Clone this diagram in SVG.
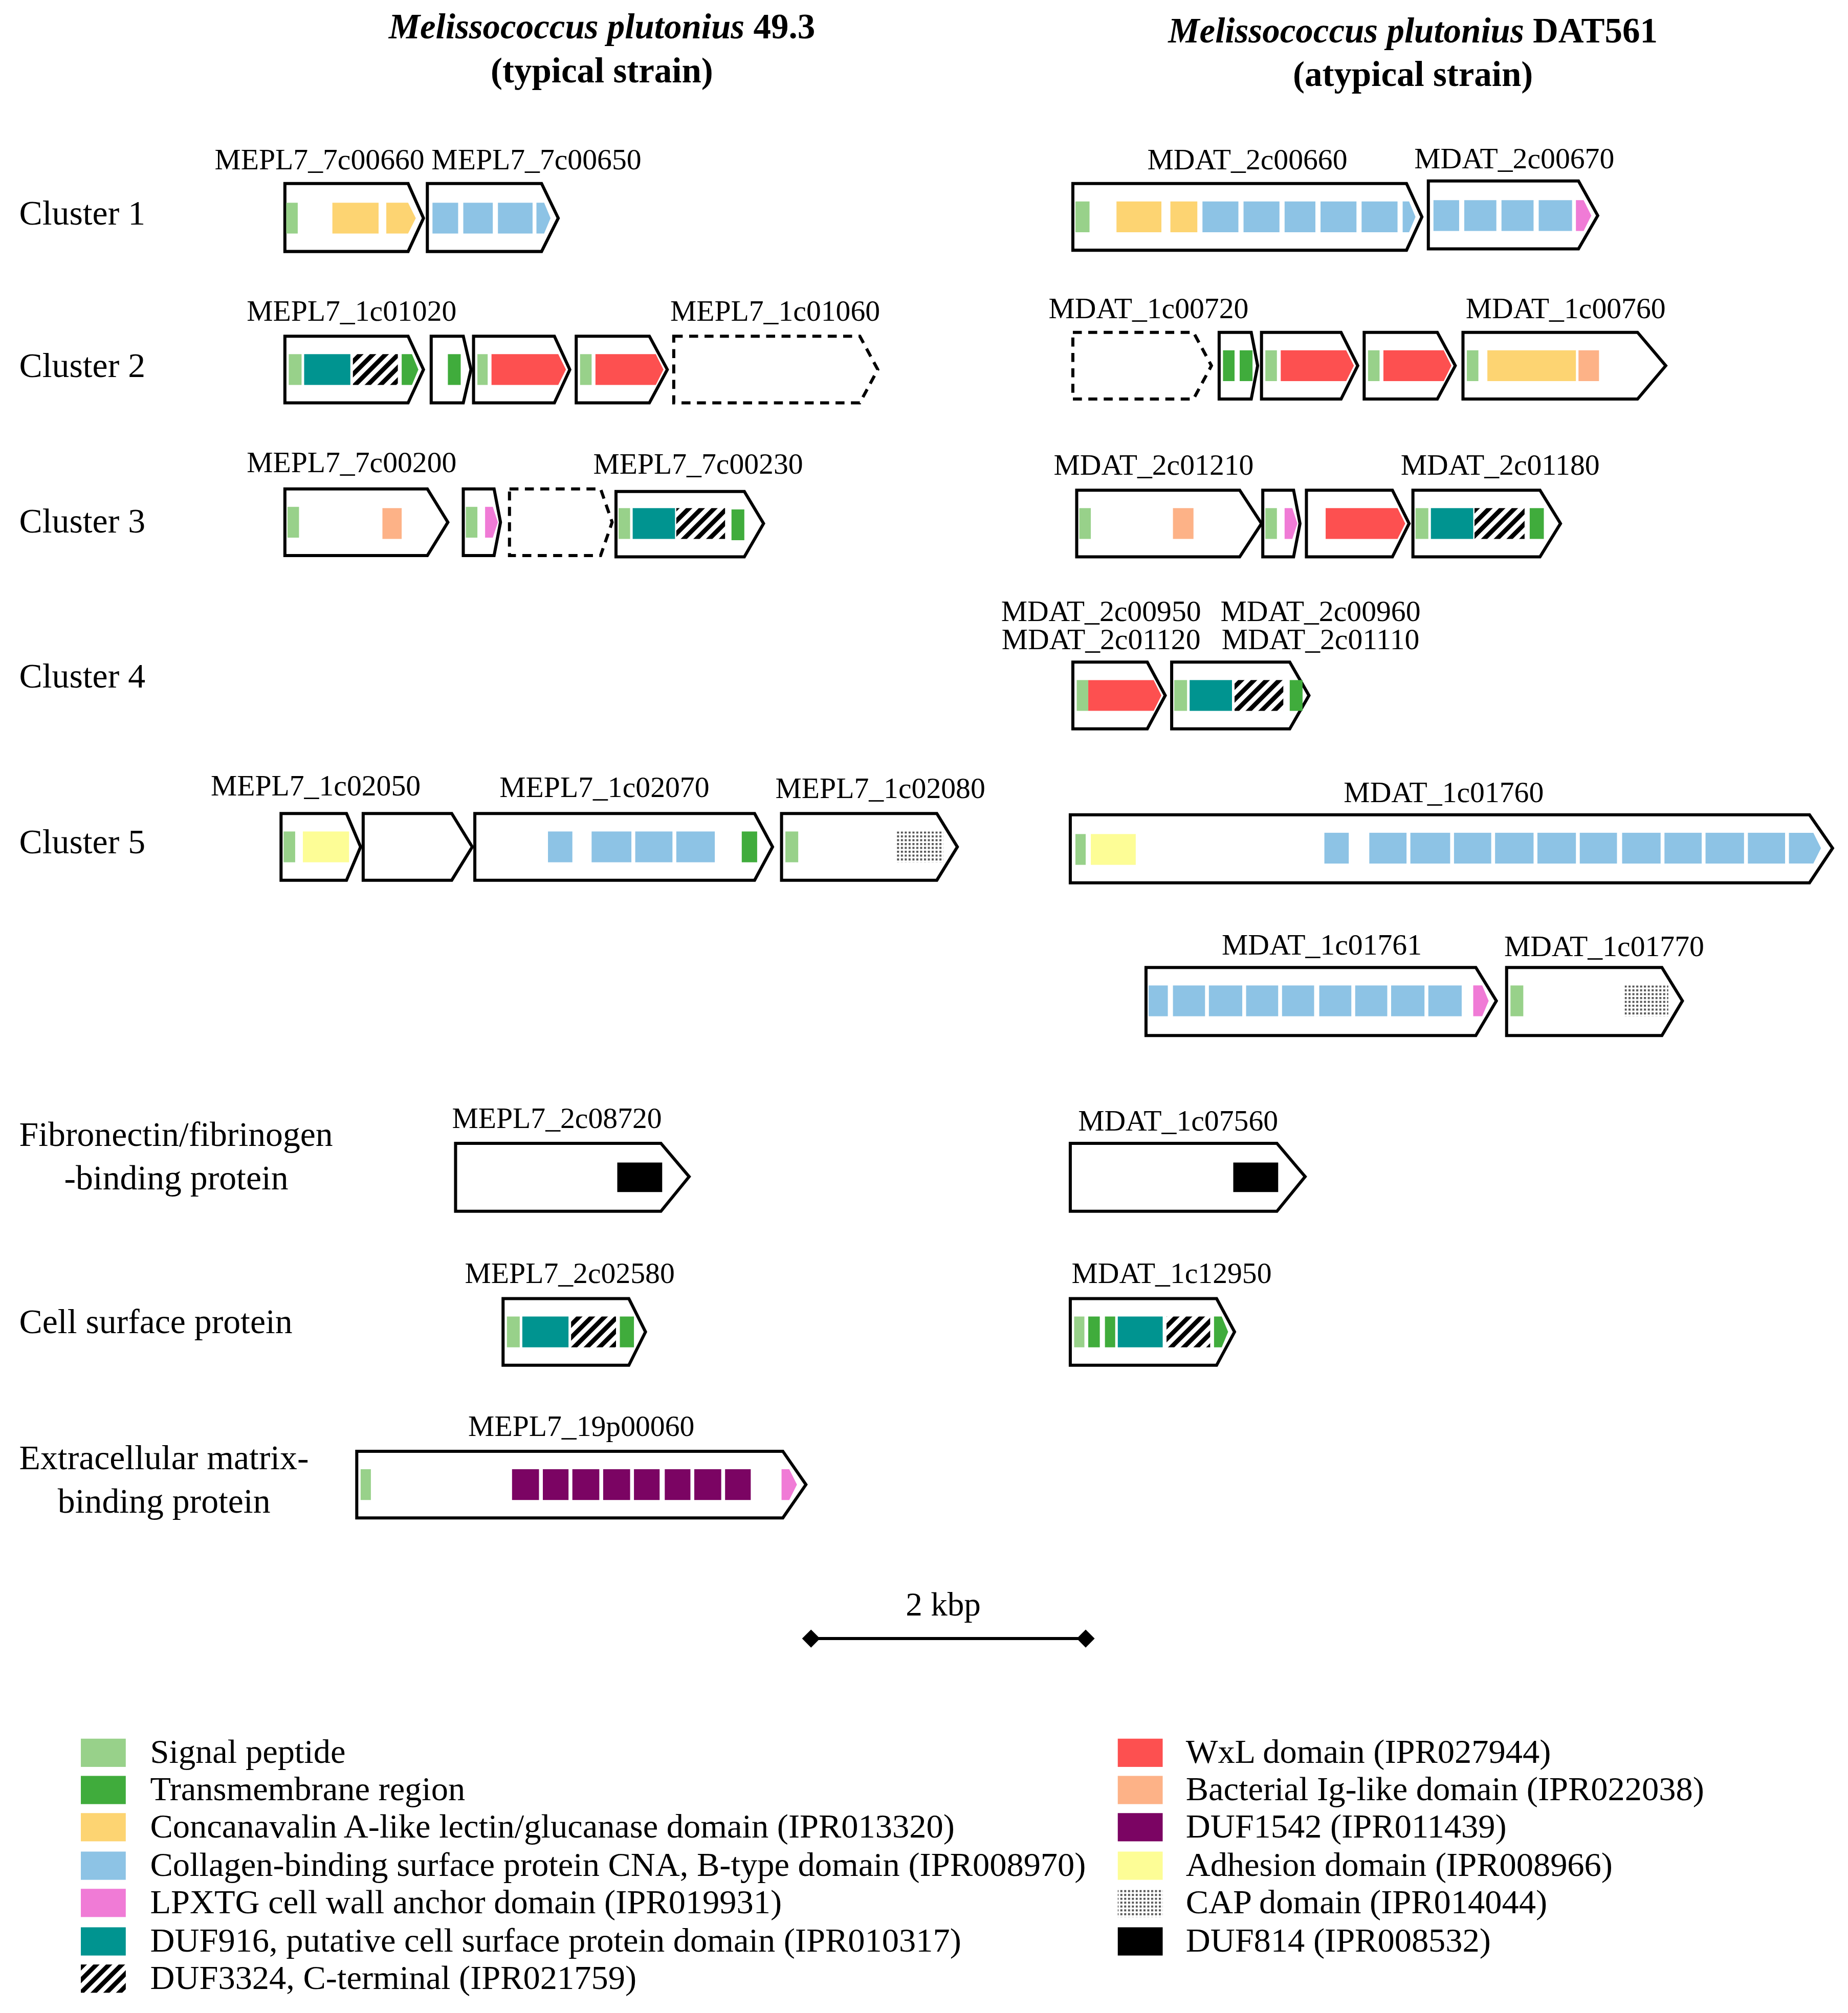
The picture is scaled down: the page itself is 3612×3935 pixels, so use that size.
<svg xmlns="http://www.w3.org/2000/svg" width="3612" height="3935" viewBox="0 0 3612 3935">
<style>
text{font-family:"Liberation Serif",serif;fill:#000}
.gl{font-size:23px;text-anchor:middle}
.rl{font-size:27px}
.lg{font-size:26.5px}
.tt{font-size:27.5px;font-weight:bold;text-anchor:middle}
.g{fill:#fff;stroke:#000;stroke-width:2.4;stroke-linejoin:miter}
.d{stroke-dasharray:7 5}
.sp{fill:#98d18a}.tm{fill:#40ac3c}.ye{fill:#fdd472}.bl{fill:#8dc3e5}.pk{fill:#f07bd6}
.tl{fill:#009490}.rd{fill:#fd5050}.sa{fill:#fdb287}.pu{fill:#7b0463}.ad{fill:#fdfd96}.bk{fill:#000}
.ht{fill:url(#hatch)}.dt{fill:url(#dots)}
</style>
<defs>
<pattern id="hatch" patternUnits="userSpaceOnUse" width="7" height="7" patternTransform="rotate(45)"><rect width="7" height="7" fill="#fff"/><rect width="3.5" height="7" fill="#000"/></pattern>
<pattern id="dots" patternUnits="userSpaceOnUse" width="3" height="3"><rect width="3" height="3" fill="#fff"/><rect width="1.6" height="1.6" fill="#555"/></pattern>
</defs>
<rect width="3612" height="3935" fill="#fff"/>
<g transform="scale(2.5083)">
<g id="titles">
<text class="tt" x="469" y="30"><tspan font-style="italic">Melissococcus plutonius</tspan> 49.3</text>
<text class="tt" x="469" y="64">(typical strain)</text>
<text class="tt" x="1101" y="33"><tspan font-style="italic">Melissococcus plutonius</tspan> DAT561</text>
<text class="tt" x="1101" y="67">(atypical strain)</text>
</g>
<g id="rowlabels">
<text class="rl" x="15" y="175">Cluster 1</text>
<text class="rl" x="15" y="294">Cluster 2</text>
<text class="rl" x="15" y="415">Cluster 3</text>
<text class="rl" x="15" y="536">Cluster 4</text>
<text class="rl" x="15" y="665">Cluster 5</text>
<text class="rl" x="15" y="893">Fibronectin/fibrinogen</text>
<text class="rl" x="50" y="927">-binding protein</text>
<text class="rl" x="15" y="1039">Cell surface protein</text>
<text class="rl" x="15" y="1145">Extracellular matrix-</text>
<text class="rl" x="45" y="1179">binding protein</text>
</g>
<g id="labels">
<text class="gl" x="249" y="132">MEPL7_7c00660</text>
<text class="gl" x="418" y="132">MEPL7_7c00650</text>
<text class="gl" x="972" y="132">MDAT_2c00660</text>
<text class="gl" x="1180" y="131">MDAT_2c00670</text>
<text class="gl" x="274" y="250">MEPL7_1c01020</text>
<text class="gl" x="604" y="250">MEPL7_1c01060</text>
<text class="gl" x="895" y="248">MDAT_1c00720</text>
<text class="gl" x="1220" y="248">MDAT_1c00760</text>
<text class="gl" x="274" y="368">MEPL7_7c00200</text>
<text class="gl" x="544" y="369">MEPL7_7c00230</text>
<text class="gl" x="899" y="370">MDAT_2c01210</text>
<text class="gl" x="1169" y="370">MDAT_2c01180</text>
<text class="gl" x="858" y="484">MDAT_2c00950</text>
<text class="gl" x="858" y="506">MDAT_2c01120</text>
<text class="gl" x="1029" y="484">MDAT_2c00960</text>
<text class="gl" x="1029" y="506">MDAT_2c01110</text>
<text class="gl" x="246" y="620">MEPL7_1c02050</text>
<text class="gl" x="471" y="621">MEPL7_1c02070</text>
<text class="gl" x="686" y="622">MEPL7_1c02080</text>
<text class="gl" x="1125" y="625">MDAT_1c01760</text>
<text class="gl" x="1030" y="744">MDAT_1c01761</text>
<text class="gl" x="1250" y="745">MDAT_1c01770</text>
<text class="gl" x="434" y="879">MEPL7_2c08720</text>
<text class="gl" x="918" y="881">MDAT_1c07560</text>
<text class="gl" x="444" y="1000">MEPL7_2c02580</text>
<text class="gl" x="913" y="1000">MDAT_1c12950</text>
<text class="gl" x="453" y="1119">MEPL7_19p00060</text>
</g>
<g id="cluster1-left">
<path class="g" d="M222 143H318L330 170L318 196H222Z"/>
<rect class="sp" x="223" y="158" width="9" height="24"/><rect class="ye" x="259" y="158" width="36" height="24"/><path class="ye" d="M301 158H318L324 170L318 182H301Z"/>
<path class="g" d="M333 143H422L435 170L422 196H333Z"/>
<rect class="bl" x="337" y="158" width="20" height="24"/><rect class="bl" x="361" y="158" width="23" height="24"/><rect class="bl" x="388" y="158" width="27" height="24"/><path class="bl" d="M418 158H424L429 170L424 182H418Z"/>
</g>
<g id="cluster1-right">
<path class="g" d="M836 143H1096L1108 169L1096 195H836Z"/>
<rect class="sp" x="838" y="157" width="11" height="24"/><rect class="ye" x="870" y="157" width="35" height="24"/><rect class="ye" x="912" y="157" width="21" height="24"/>
<rect class="bl" x="937" y="157" width="28" height="24"/><rect class="bl" x="969" y="157" width="28" height="24"/><rect class="bl" x="1001" y="157" width="24" height="24"/><rect class="bl" x="1029" y="157" width="28" height="24"/><rect class="bl" x="1061" y="157" width="28" height="24"/><path class="bl" d="M1093 157H1098L1103 169L1098 181H1093Z"/>
<path class="g" d="M1113 141H1230L1245 168L1230 194H1113Z"/>
<rect class="bl" x="1117" y="156" width="20" height="24"/><rect class="bl" x="1141" y="156" width="25" height="24"/><rect class="bl" x="1170" y="156" width="25" height="24"/><rect class="bl" x="1199" y="156" width="26" height="24"/><path class="pk" d="M1228 156H1234L1240 168L1234 180H1228Z"/>
</g>
<g id="cluster2-left">
<path class="g" d="M222 262H318L330 288L318 314H222Z"/>
<rect class="sp" x="225" y="276" width="10" height="24"/><rect class="tl" x="237" y="276" width="36" height="24"/><rect class="ht" x="275" y="276" width="35" height="24"/><path class="tm" d="M313 276H321L326 288L321 300H313Z"/>
<path class="g" d="M336 262H361L367 288L361 314H336Z"/>
<rect class="tm" x="349" y="276" width="10" height="24"/>
<path class="g" d="M369 262H432L444 288L432 314H369Z"/>
<rect class="sp" x="372" y="276" width="8" height="24"/><path class="rd" d="M383 276H435L441 288L435 300H383Z"/>
<path class="g" d="M449 262H506L520 288L506 314H449Z"/>
<rect class="sp" x="452" y="276" width="9" height="24"/><path class="rd" d="M464 276H511L517 288L511 300H464Z"/>
<path class="g d" d="M525 262H670L684 288L670 314H525Z"/>
</g>
<g id="cluster2-right">
<path class="g d" d="M836 259H930L944 285L930 311H836Z"/>
<path class="g" d="M950 259H975L980 285L975 311H950Z"/>
<rect class="tm" x="953" y="273" width="9" height="24"/><rect class="tm" x="966" y="273" width="10" height="24"/>
<path class="g" d="M983 259H1045L1058 285L1045 311H983Z"/>
<rect class="sp" x="986" y="273" width="9" height="24"/><path class="rd" d="M998 273H1049L1055 285L1049 297H998Z"/>
<path class="g" d="M1063 259H1120L1134 285L1120 311H1063Z"/>
<rect class="sp" x="1066" y="273" width="9" height="24"/><path class="rd" d="M1078 273H1125L1131 285L1125 297H1078Z"/>
<path class="g" d="M1140 259H1276L1298 285L1276 311H1140Z"/>
<rect class="sp" x="1143" y="273" width="9" height="24"/><rect class="ye" x="1159" y="273" width="69" height="24"/><rect class="sa" x="1230" y="273" width="16" height="24"/>
</g>
<g id="cluster3-left">
<path class="g" d="M222 381H333L349 407L333 433H222Z"/>
<rect class="sp" x="224" y="395" width="9" height="24"/><rect class="sa" x="298" y="396" width="15" height="24"/>
<path class="g" d="M361 381H385L390 407L385 433H361Z"/>
<rect class="sp" x="363" y="395" width="9" height="24"/><path class="pk" d="M378 395H384L388 407L384 419H378Z"/>
<path class="g d" d="M397 381H468L477 407L468 433H397Z"/>
<path class="g" d="M480 383H580L595 408L580 434H480Z"/>
<rect class="sp" x="482" y="396" width="9" height="24"/><rect class="tl" x="493" y="396" width="33" height="24"/><rect class="ht" x="527" y="396" width="38" height="24"/><rect class="tm" x="570" y="397" width="10" height="24"/>
</g>
<g id="cluster3-right">
<path class="g" d="M839 382H966L983 408L966 434H839Z"/>
<rect class="sp" x="841" y="396" width="9" height="24"/><rect class="sa" x="914" y="396" width="16" height="24"/>
<path class="g" d="M984 382H1008L1013 408L1008 434H984Z"/>
<rect class="sp" x="986" y="396" width="9" height="24"/><path class="pk" d="M1001 396H1007L1011 408L1007 420H1001Z"/>
<path class="g" d="M1018 382H1085L1098 408L1085 434H1018Z"/>
<path class="rd" d="M1033 396H1089L1095 408L1089 420H1033Z"/>
<path class="g" d="M1101 382H1200L1216 408L1200 434H1101Z"/>
<rect class="sp" x="1103" y="396" width="10" height="24"/><rect class="tl" x="1115" y="396" width="33" height="24"/><rect class="ht" x="1149" y="396" width="39" height="24"/><rect class="tm" x="1192" y="396" width="11" height="24"/>
</g>
<g id="cluster4-right">
<path class="g" d="M836 516H894L908 542L894 568H836Z"/>
<rect class="sp" x="839" y="530" width="9" height="24"/><path class="rd" d="M848 530H899L905 542L899 554H848Z"/>
<path class="g" d="M913 516H1005L1020 542L1005 568H913Z"/>
<rect class="sp" x="915" y="530" width="10" height="24"/><rect class="tl" x="927" y="530" width="33" height="24"/><rect class="ht" x="962" y="530" width="38" height="24"/><rect class="tm" x="1005" y="530" width="10" height="24"/>
</g>
<g id="cluster5-left">
<path class="g" d="M219 634H270L281 660L270 686H219Z"/>
<rect class="sp" x="221" y="648" width="9" height="24"/><rect class="ad" x="236" y="648" width="36" height="24"/>
<path class="g" d="M283 634H352L368 660L352 686H283Z"/>
<path class="g" d="M370 634H588L602 660L588 686H370Z"/>
<rect class="bl" x="427" y="648" width="19" height="24"/><rect class="bl" x="461" y="648" width="31" height="24"/><rect class="bl" x="495" y="648" width="29" height="24"/><rect class="bl" x="527" y="648" width="30" height="24"/><rect class="tm" x="578" y="648" width="12" height="24"/>
<path class="g" d="M609 634H730L746 660L730 686H609Z"/>
<rect class="sp" x="612" y="648" width="10" height="24"/><rect class="dt" x="698" y="648" width="37" height="24"/>
</g>
<g id="cluster5-right">
<path class="g" d="M834 635H1410L1428 661L1410 688H834Z"/>
<rect class="sp" x="838" y="650" width="8" height="24"/><rect class="ad" x="850" y="650" width="35" height="24"/>
<rect class="bl" x="1032" y="649" width="19" height="24"/><rect class="bl" x="1067" y="649" width="29" height="24"/><rect class="bl" x="1099" y="649" width="31" height="24"/><rect class="bl" x="1133" y="649" width="29" height="24"/><rect class="bl" x="1165" y="649" width="30" height="24"/><rect class="bl" x="1198" y="649" width="30" height="24"/><rect class="bl" x="1231" y="649" width="29" height="24"/><rect class="bl" x="1264" y="649" width="30" height="24"/><rect class="bl" x="1297" y="649" width="29" height="24"/><rect class="bl" x="1329" y="649" width="30" height="24"/><rect class="bl" x="1362" y="649" width="29" height="24"/><path class="bl" d="M1394 649H1413L1419 661L1413 673H1394Z"/>
</g>
<g id="cluster5b-right">
<path class="g" d="M893 754H1150L1166 780L1150 807H893Z"/>
<rect class="bl" x="895" y="768" width="15" height="24"/><rect class="bl" x="914" y="768" width="25" height="24"/><rect class="bl" x="942" y="768" width="26" height="24"/><rect class="bl" x="971" y="768" width="25" height="24"/><rect class="bl" x="999" y="768" width="25" height="24"/><rect class="bl" x="1028" y="768" width="25" height="24"/><rect class="bl" x="1056" y="768" width="25" height="24"/><rect class="bl" x="1084" y="768" width="26" height="24"/><rect class="bl" x="1113" y="768" width="26" height="24"/><path class="pk" d="M1148 768H1155L1160 780L1155 792H1148Z"/>
<path class="g" d="M1174 754H1295L1311 780L1295 807H1174Z"/>
<rect class="sp" x="1177" y="768" width="10" height="24"/><rect class="dt" x="1266" y="768" width="34" height="24"/>
</g>
<g id="fibronectin">
<path class="g" d="M355 891H515L537 917L515 944H355Z"/>
<rect class="bk" x="481" y="906" width="35" height="23"/>
<path class="g" d="M834 891H995L1017 917L995 944H834Z"/>
<rect class="bk" x="961" y="906" width="35" height="23"/>
</g>
<g id="cellsurface">
<path class="g" d="M392 1012H490L503 1038L490 1064H392Z"/>
<rect class="sp" x="395" y="1026" width="10" height="24"/><rect class="tl" x="407" y="1026" width="36" height="24"/><rect class="ht" x="445" y="1026" width="35" height="24"/><rect class="tm" x="483" y="1026" width="11" height="24"/>
<path class="g" d="M834 1012H948L962 1038L948 1064H834Z"/>
<rect class="sp" x="837" y="1026" width="8" height="24"/><rect class="tm" x="848" y="1026" width="9" height="24"/><rect class="tm" x="861" y="1026" width="8" height="24"/><rect class="tl" x="871" y="1026" width="35" height="24"/><rect class="ht" x="909" y="1026" width="34" height="24"/><path class="tm" d="M946 1026H952L957 1038L952 1050H946Z"/>
</g>
<g id="extracellular">
<path class="g" d="M278 1131H610L628 1157L610 1183H278Z"/>
<rect class="sp" x="281" y="1145" width="8" height="24"/>
<rect class="pu" x="399" y="1145" width="21" height="24"/><rect class="pu" x="423" y="1145" width="20" height="24"/><rect class="pu" x="446" y="1145" width="21" height="24"/><rect class="pu" x="470" y="1145" width="21" height="24"/><rect class="pu" x="494" y="1145" width="20" height="24"/><rect class="pu" x="518" y="1145" width="20" height="24"/><rect class="pu" x="541" y="1145" width="21" height="24"/><rect class="pu" x="565" y="1145" width="20" height="24"/>
<path class="pk" d="M609 1145H615L621 1157L615 1169H609Z"/>
</g>
<g id="scalebar">
<text x="735" y="1259" text-anchor="middle" style="font-size:26px">2 kbp</text>
<line x1="632" y1="1277" x2="846" y2="1277" stroke="#000" stroke-width="2.4"/>
<path d="M625 1277L632 1270L639 1277L632 1284Z M839 1277L846 1270L853 1277L846 1284Z" fill="#000"/>
</g>
<g id="legend">
<rect class="sp" x="63" y="1355" width="35" height="22"/><text class="lg" x="117" y="1374">Signal peptide</text>
<rect class="tm" x="63" y="1384" width="35" height="22"/><text class="lg" x="117" y="1403">Transmembrane region</text>
<rect class="ye" x="63" y="1413" width="35" height="22"/><text class="lg" x="117" y="1432">Concanavalin A-like lectin/glucanase domain (IPR013320)</text>
<rect class="bl" x="63" y="1443" width="35" height="22"/><text class="lg" x="117" y="1462">Collagen-binding surface protein CNA, B-type domain (IPR008970)</text>
<rect class="pk" x="63" y="1472" width="35" height="22"/><text class="lg" x="117" y="1491">LPXTG cell wall anchor domain (IPR019931)</text>
<rect class="tl" x="63" y="1502" width="35" height="22"/><text class="lg" x="117" y="1521">DUF916, putative cell surface protein domain (IPR010317)</text>
<rect class="ht" x="63" y="1531" width="35" height="22"/><text class="lg" x="117" y="1550">DUF3324, C-terminal (IPR021759)</text>
<rect class="rd" x="871" y="1355" width="35" height="22"/><text class="lg" x="924" y="1374">WxL domain (IPR027944)</text>
<rect class="sa" x="871" y="1384" width="35" height="22"/><text class="lg" x="924" y="1403">Bacterial Ig-like domain (IPR022038)</text>
<rect class="pu" x="871" y="1413" width="35" height="22"/><text class="lg" x="924" y="1432">DUF1542 (IPR011439)</text>
<rect class="ad" x="871" y="1443" width="35" height="22"/><text class="lg" x="924" y="1462">Adhesion domain (IPR008966)</text>
<rect class="dt" x="871" y="1472" width="35" height="22"/><text class="lg" x="924" y="1491">CAP domain (IPR014044)</text>
<rect class="bk" x="871" y="1502" width="35" height="22"/><text class="lg" x="924" y="1521">DUF814 (IPR008532)</text>
</g>
</g>
</svg>
